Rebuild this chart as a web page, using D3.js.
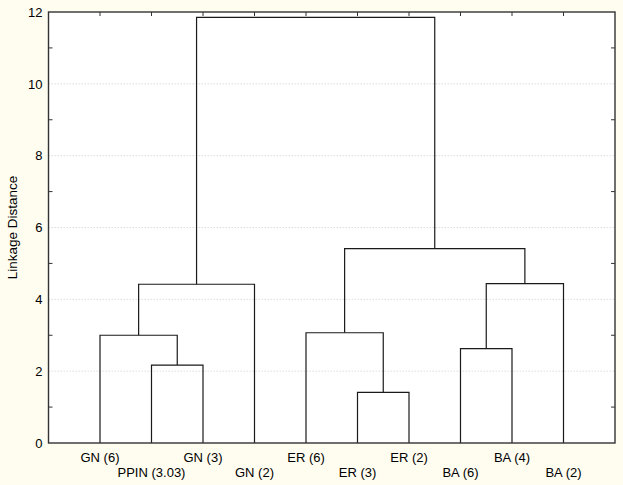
<!DOCTYPE html>
<html>
<head>
<meta charset="utf-8">
<script src="https://cdn.jsdelivr.net/npm/d3@7"></script>
<style>
  html, body { margin: 0; padding: 0; background: #fffdf0; }
  svg { display: block; }
  text { font-family: "Liberation Sans", Arial, sans-serif; fill: #000; }
</style>
</head>
<body>
<svg id="chart" width="623" height="485"></svg>
<script>
// Leaves in display order
const leaves = ["GN (6)", "PPIN (3.03)", "GN (3)", "GN (2)", "ER (6)", "ER (3)", "ER (2)", "BA (6)", "BA (4)", "BA (2)"];
// Linkage: nodes 0..9 are leaves, merges create nodes 10..18
const mergeLeft   = [1, 0, 11, 5, 4, 7, 15, 14, 12];
const mergeRight  = [2, 10, 3, 6, 13, 8, 9, 16, 17];
const mergeHeight = [2.17, 3.00, 4.42, 1.41, 3.07, 2.63, 4.44, 5.41, 11.85];
const yTicksMajor = [0, 2, 4, 6, 8, 10, 12];
const yTicksMinor = [1, 3, 5, 7, 9, 11];
const yTitle = "Linkage Distance";

const svg = d3.select("#chart");
const L = 48.5, R = 615, T = 12, B = 443;

const x = d3.scalePoint().domain(leaves).range([L, R]).padding(1);
const y = d3.scaleLinear().domain([0, 12]).range([B, T]);

// plot background
svg.append("rect").attr("x", L).attr("y", T).attr("width", R - L).attr("height", B - T)
  .attr("fill", "#ffffff");

// gridlines
svg.append("g").selectAll("line").data(yTicksMajor.filter(d => d > 0 && d < 12)).join("line")
  .attr("x1", L).attr("x2", R)
  .attr("y1", d => y(d)).attr("y2", d => y(d))
  .attr("stroke", "#d4d4d4").attr("stroke-width", 0.8).attr("stroke-dasharray", "1.5,1.5");

// node positions
const nodeX = leaves.map(d => x(d));
const nodeY = leaves.map(() => 0);
const g = svg.append("g").attr("fill", "none").attr("stroke", "#1a1a1a").attr("stroke-width", 1.2);
mergeLeft.forEach((a, i) => {
  const b = mergeRight[i], h = mergeHeight[i];
  const xa = nodeX[a], xb = nodeX[b];
  g.append("path").attr("d",
    `M${xa},${y(nodeY[a])}V${y(h)}H${xb}V${y(nodeY[b])}`);
  nodeX.push((xa + xb) / 2);
  nodeY.push(h);
});

// axes labels (left)
const axL = d3.axisLeft(y).tickValues(yTicksMajor).tickSize(0).tickPadding(6).tickFormat(d3.format("d"));
const gl = svg.append("g").attr("transform", `translate(${L},0)`).call(axL);
gl.select(".domain").remove();
gl.selectAll("text").attr("font-size", 13).style("font-family", "Liberation Sans, Arial, sans-serif");

// inward ticks
const tk = svg.append("g").attr("stroke", "#333").attr("stroke-width", 1);
tk.selectAll(".ml").data(yTicksMinor).join("line")
  .attr("x1", L).attr("x2", L + 4).attr("y1", d => y(d)).attr("y2", d => y(d));
tk.selectAll(".mr").data(yTicksMinor).join("line")
  .attr("x1", R).attr("x2", R - 4).attr("y1", d => y(d)).attr("y2", d => y(d));
tk.selectAll(".mt").data(leaves).join("line")
  .attr("x1", d => x(d)).attr("x2", d => x(d)).attr("y1", T).attr("y2", T + 4);

// frame
svg.append("rect").attr("x", L).attr("y", T).attr("width", R - L).attr("height", B - T)
  .attr("fill", "none").attr("stroke", "#333").attr("stroke-width", 1.4);

// leaf labels, staggered
svg.append("g").selectAll("text").data(leaves).join("text")
  .attr("x", d => x(d))
  .attr("y", (d, i) => i % 2 === 0 ? 462 : 477)
  .attr("text-anchor", "middle").attr("font-size", 13)
  .text(d => d);

// y title
svg.append("text").attr("transform", `translate(17,${(T + B) / 2}) rotate(-90)`)
  .attr("text-anchor", "middle").attr("font-size", 13.5).text(yTitle);
</script>
</body>
</html>
